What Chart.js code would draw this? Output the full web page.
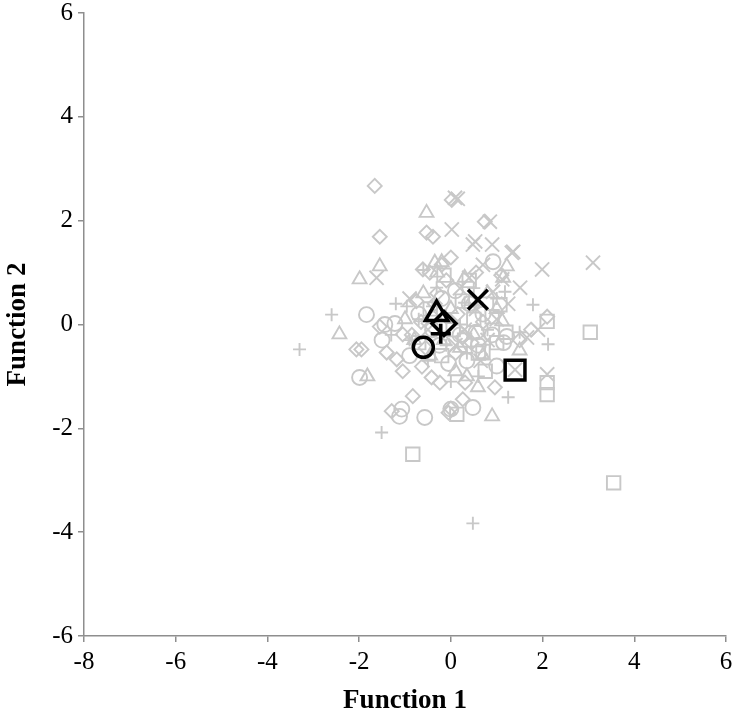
<!DOCTYPE html>
<html>
<head>
<meta charset="utf-8">
<script src="https://cdn.jsdelivr.net/npm/chart.js@4.4.1/dist/chart.umd.min.js"></script>
<style>
  html, body { margin: 0; padding: 0; background: #fff; }
  canvas { display: block; }
</style>
</head>
<body>
<canvas id="chart" width="737" height="725"></canvas>
<script>
// group scores on the two discriminant functions
const diamonds = [
    [-1.66, 2.67], [-1.55, 1.69], [-0.53, 1.77], [-0.39, 1.69], [0.02, 2.40], [0.74, 1.98],
    [-2.06, -0.48], [-1.95, -0.48], [-1.29, -1.67], [-0.83, -1.38], [0.96, -1.21], [0.31, -1.12],
    [0.26, -1.44], [2.10, 0.15], [-0.61, 1.06], [-0.46, 1.00], [0.00, 1.29], [-0.20, 1.15],
    [-1.40, -0.54], [-1.18, -0.67], [-1.05, -0.90], [-0.63, -0.81], [-0.42, -1.02], [-0.24, -1.12],
    [-1.55, -0.04], [-1.05, -0.19], [-0.75, 0.45], [-0.30, 0.60], [0.15, 0.20], [0.45, -0.35],
    [0.70, 0.05], [-0.85, -0.20], [1.50, -0.30], [0.10, -0.55], [-0.55, -0.45], [0.55, 1.00],
    [1.75, -0.10], [-0.05, -1.70], [0.00, -1.62], [1.10, 0.95], [-0.10, 0.85], [-0.35, 0.40],
    [0.25, -0.25], [-0.65, 0.05],
];
const squares = [
    [3.04, -0.15], [3.55, -3.05], [-0.83, -2.50], [2.10, 0.06], [2.10, -1.12], [2.10, -1.35],
    [1.07, 0.38], [0.13, -1.73], [0.30, -0.30], [0.60, -0.55], [-0.20, -0.60], [0.90, 0.15],
    [0.50, 0.10], [1.00, -0.35], [-0.45, 0.30], [0.25, 0.45], [1.20, -0.15], [0.05, -0.10],
    [-0.70, -0.35], [0.75, -0.90], [0.40, 0.85], [-0.15, 0.95], [0.70, -0.52],
];
const triangles = [
    [-0.53, 2.15], [-1.55, 1.12], [-1.99, 0.87], [-2.43, -0.19], [-1.82, -1.00], [0.90, -1.77],
    [0.59, -1.21], [1.22, 1.12], [1.14, 0.90], [1.12, 0.06], [0.50, -0.20], [0.00, 0.30],
    [-0.80, -0.30], [0.30, 0.90], [-0.30, 1.00], [0.80, 0.60], [0.70, -0.60], [-0.60, 0.60],
    [1.50, -0.50], [0.10, -0.90], [0.35, -1.00], [-1.00, 0.10], [-0.15, -0.30], [0.20, -0.45],
    [-0.45, -0.60], [1.00, 0.30], [-0.20, 1.20], [0.45, 0.45], [-0.35, 1.19],
];
const crosses = [
    [0.09, 2.44], [0.15, 2.42], [0.85, 1.98], [0.02, 1.83], [0.53, 1.60], [0.90, 1.54],
    [1.33, 1.38], [1.99, 1.06], [3.10, 1.19], [1.51, 0.71], [-1.62, 0.90], [1.66, -0.25],
    [2.10, -0.96], [1.40, -0.87], [0.70, 1.15], [1.12, 0.87], [0.92, 0.63], [0.48, 1.54],
    [1.36, 1.40], [0.40, 0.90], [0.20, 0.70], [-0.25, 0.15], [0.30, -0.10], [0.80, -0.30],
    [1.00, 0.10], [0.55, 0.30], [-0.50, -0.10], [0.10, -0.40], [1.25, 0.40], [-0.90, 0.50],
    [0.65, -0.70], [1.90, -0.10],
];
const circles = [
    [-1.84, 0.19], [-1.99, -1.02], [-1.12, -1.77], [-0.57, -1.79], [0.00, -1.63], [0.48, -1.60],
    [0.92, 1.21], [-1.44, 0.00], [-1.22, 0.02], [-0.40, -0.10], [0.20, -0.20], [0.60, -0.40],
    [-0.90, -0.60], [0.40, 0.40], [-0.20, 0.50], [1.00, -0.80], [0.90, -0.20], [1.22, -0.23],
    [-1.07, -1.63], [-0.70, 0.20], [0.10, 0.65], [-0.05, -0.75], [0.70, 0.20], [-1.50, -0.30],
    [0.35, -0.70], [1.15, -0.35], [-0.25, -0.40], [0.55, -0.15],
];
const pluses = [
    [-3.30, -0.48], [-2.60, 0.19], [-1.51, -2.08], [0.48, -3.83], [2.12, -0.38], [1.25, -1.40],
    [1.79, 0.38], [1.18, 0.63], [0.30, 0.42], [-0.31, 0.71], [-0.96, 0.35], [-0.70, 0.10],
    [-0.10, -0.40], [0.20, 0.00], [0.80, -0.10], [-0.50, -0.70], [0.50, 0.70], [-1.20, 0.40],
    [1.00, 0.50], [0.00, -1.10], [-0.90, -0.30], [-1.30, -0.20], [0.60, -1.00], [1.50, -0.15],
    [-0.40, 0.35], [0.35, -0.55], [-0.60, 1.05],
];

// group centroids (black markers)
const centroids = {
    diamond:  [-0.15, 0.02],
    square:   [1.40, -0.88],
    triangle: [-0.31, 0.20],
    cross:    [0.59, 0.48],
    circle:   [-0.60, -0.44],
    plus:     [-0.22, -0.18],
};

const X_TICKS = { min: -8, max: 6, step: 2 };
const Y_TICKS = { min: -6, max: 6, step: 2 };

const GRAY = '#c8c8c8';
const AXIS = '#8e8e8e';
const FONT = 'Liberation Serif, Times New Roman, serif';

// big markers make Chart.js shrink the plot area; the reference does not
Chart.ScatterController.prototype.getMaxOverflow = function () { return 0; };

const toPts = arr => arr.map(([x, y]) => ({ x, y }));

function groupSet(arr, style, radius) {
    return {
        data: toPts(arr),
        pointStyle: style,
        pointRadius: radius,
        pointHoverRadius: radius,
        borderColor: GRAY,
        backgroundColor: 'rgba(0,0,0,0)',
        pointBorderWidth: 1.9,
        showLine: false,
        order: 2,
    };
}

function centroidSet(pt, style, radius) {
    return {
        data: toPts([pt]),
        pointStyle: style,
        pointRadius: radius,
        pointHoverRadius: radius,
        borderColor: '#000',
        backgroundColor: 'rgba(0,0,0,0)',
        pointBorderWidth: 3.5,
        showLine: false,
        order: 1,
    };
}

const datasets = [
    groupSet(diamonds, 'rectRot', 7),
    groupSet(squares, 'rect', 9.5),
    groupSet(triangles, 'triangle', 8),
    groupSet(crosses, 'crossRot', 10),
    groupSet(circles, 'circle', 7.5),
    groupSet(pluses, 'cross', 6.5),
    centroidSet(centroids.diamond, 'rectRot', 12),
    centroidSet(centroids.square, 'rect', 14),
    centroidSet(centroids.triangle, 'triangle', 13),
    centroidSet(centroids.cross, 'crossRot', 14),
    centroidSet(centroids.circle, 'circle', 10),
    centroidSet(centroids.plus, 'cross', 10),
];

// drop the extra room Chart.js keeps for the end tick labels
function noPad(s) {
    s.paddingTop = 0;
    s.paddingBottom = 0;
    s.paddingLeft = 0;
    s.paddingRight = 0;
}

function axis(range, title, fit) {
    return {
        type: 'linear',
        min: range.min,
        max: range.max,
        afterFit: s => { fit(s); noPad(s); },
        border: { display: true, color: AXIS, width: 1.5 },
        grid: { display: true, drawOnChartArea: false, drawTicks: true, tickLength: 6, color: AXIS, lineWidth: 1.5 },
        ticks: {
            stepSize: range.step,
            padding: 5,
            color: '#000',
            font: { family: FONT, size: 25 },
        },
        title: {
            display: true,
            text: title,
            color: '#000',
            font: { family: FONT, size: 27, weight: 'bold' },
            padding: { top: 2, bottom: 8 },
        },
    };
}

new Chart(document.getElementById('chart'), {
    type: 'scatter',
    data: { datasets },
    options: {
        responsive: false,
        animation: false,
        events: [],
        layout: { padding: { top: 13, right: 11, left: 0, bottom: 0 } },
        plugins: { legend: { display: false }, tooltip: { enabled: false } },
        scales: {
            x: axis(X_TICKS, 'Function 1', s => { s.height = 89; }),
            y: axis(Y_TICKS, 'Function 2', s => { s.width = 84; }),
        },
    },
});
</script>
</body>
</html>
